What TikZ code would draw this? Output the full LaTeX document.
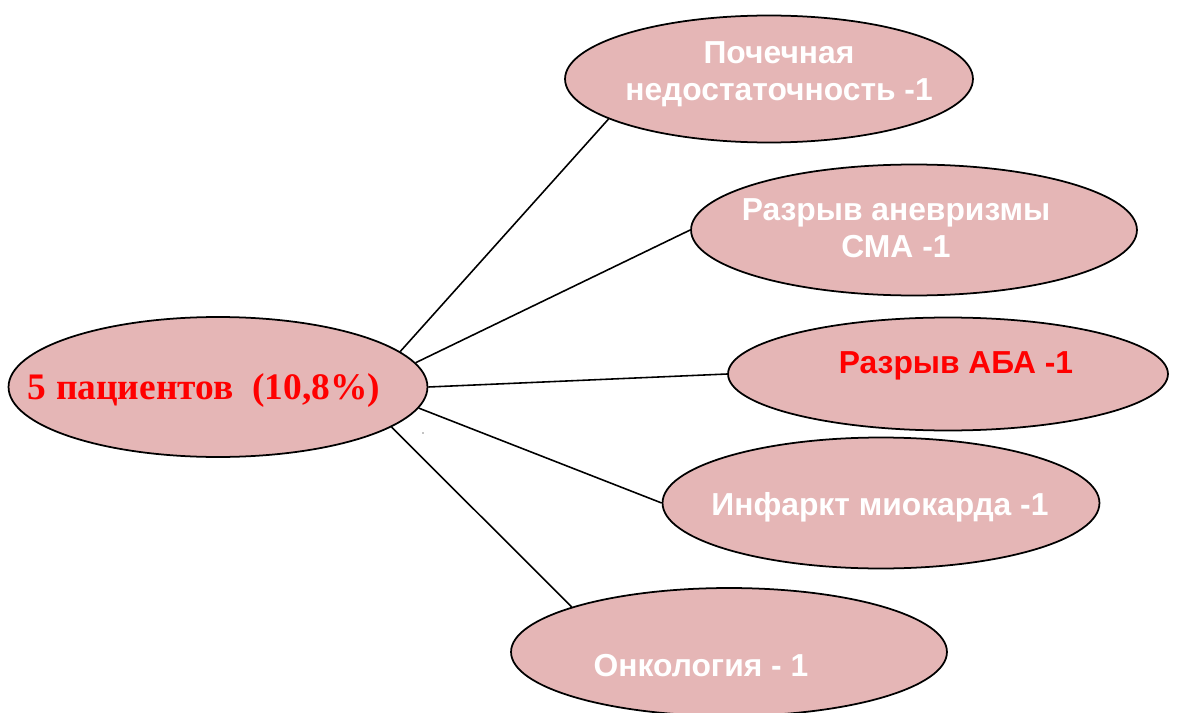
\documentclass[tikz,border=0pt]{standalone}
\usepackage{fontspec}
\setmainfont{Liberation Serif}
\newfontfamily\arialfont{Liberation Sans}
\usetikzlibrary{shapes.geometric}
\definecolor{pinkfill}{RGB}{229,182,182}
\definecolor{brightred}{RGB}{255,0,0}
\begin{document}
\begin{tikzpicture}
                                [
                                    x=0.02cm, y=-0.02cm,
                                    oval/.style = {draw, shape=ellipse, fill=pinkfill, inner sep=0pt, line width=1pt},
                                    wtext/.style = {text=white, font=\arialfont\bfseries\fontsize{18.1}{21}\selectfont, align=center, inner sep=0pt},
                                    link/.style = {line width=0.9pt},
                                ]
                                \clip (0,0) rectangle (1177,713);

                                \node[oval, minimum width=8.38cm, minimum height=2.80cm] (c0) at (218,387) {};
                                \node[oval, minimum width=8.16cm, minimum height=2.54cm] (e1) at (769,79) {};
                                \node[oval, minimum width=8.92cm, minimum height=2.62cm] (e2) at (914,230) {};
                                \node[oval, minimum width=8.80cm, minimum height=2.26cm] (e3) at (948,374) {};
                                \node[oval, minimum width=8.74cm, minimum height=2.62cm] (e4) at (881,503) {};
                                \node[oval, minimum width=8.72cm, minimum height=2.56cm] (e5) at (729,652) {};

                                \node[text=brightred, inner sep=0pt, font=\bfseries\fontsize{21.3}{25}\selectfont] (t0) at (204,390) {5 пациентов\ \ (10,8\%)};
                                \node[wtext] (t1) at (779,74) {Почечная\\недостаточность -1};
                                \node[wtext] (t2) at (896,228) {Разрыв аневризмы\\СМА -1};
                                \node[wtext, text=brightred] (t3) at (956,366) {Разрыв АБА -1};
                                \node[wtext] (t4) at (880,507) {Инфаркт миокарда -1};
                                \node[wtext] (t5) at (701,666) {Онкология - 1};

                                \draw [link] (c0.11) -- (e1.194);
                                \draw [link] (c0.7) -- (e2.180);
                                \draw [link] (c0.0) -- (e3.180);
                                \draw [link] (c0.-6) -- (e4.180);
                                \draw [link] (c0.-13) -- (e5.164);

                                \fill (423,433) circle (0.6);
                            \end{tikzpicture}
\end{document}
